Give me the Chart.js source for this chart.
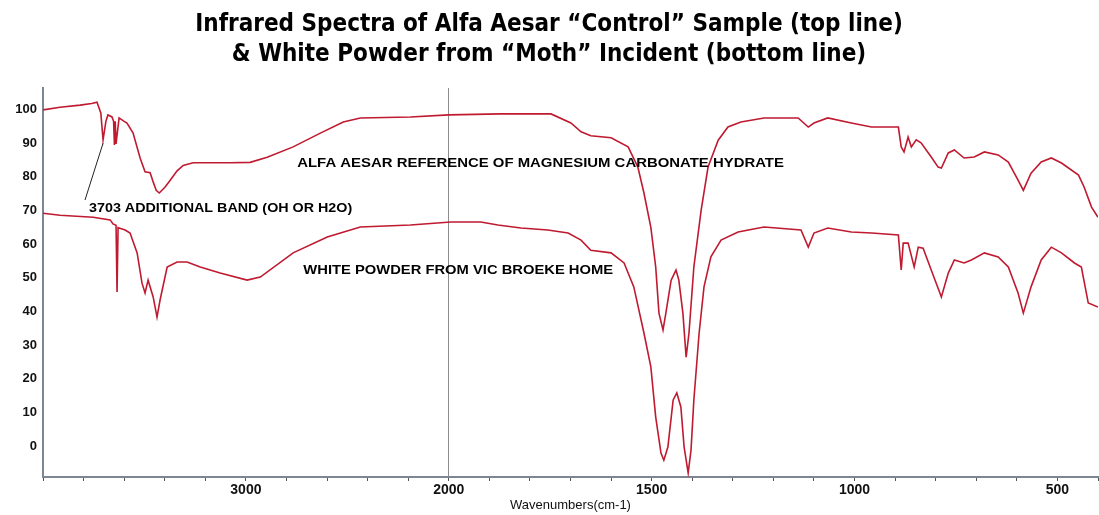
<!DOCTYPE html>
<html><head><meta charset="utf-8">
<script src="https://cdn.jsdelivr.net/npm/chart.js@4.4.0/dist/chart.umd.min.js"></script>
<style>html,body{margin:0;padding:0;background:#fff;overflow:hidden}#wrap{width:1099px;height:515px}</style>
</head><body><div id="wrap"><canvas id="c" width="1099" height="515"></canvas></div>
<script>
// ---- data (wavenumber cm-1, %T) ----
const topWavenumbers = [4000,3916,3817,3760,3734,3715,3704,3690,3680,3660,3652,3648,3644,3640,3625,3600,3586,3556,3521,3497,3472,3457,3442,3427,3398,3373,3339,3309,3260,3176,3077,2979,2895,2767,2633,2520,2436,2189,2000,1872,1748,1699,1674,1650,1600,1558,1534,1519,1502,1490,1482,1472,1465,1452,1440,1433,1423,1415,1408,1396,1378,1361,1336,1312,1280,1223,1139,1114,1100,1066,1008,958,892,885,878,868,860,848,836,811,794,786,769,754,730,705,680,646,621,597,584,565,540,515,490,448,434,416,400];
const topTransmittance = [99.9,100.7,101.3,101.8,102.2,99,91,96.5,98.4,97.8,96.5,89.5,96.5,89.8,97.5,96.5,96,93,85.5,81.5,81.2,78.5,76,75.2,77,79,81.8,83.4,84.2,84.2,84.2,84.3,85.8,88.9,93,96.3,97.5,97.8,98.4,98.7,98.7,96,93.4,92.2,91.6,88.9,82.9,75.2,65,53.2,39.5,34.5,39.5,49.3,52.3,49.3,39.5,26.4,33.6,53.2,70.1,82.9,90.9,94.8,96.3,97.5,97.5,94.8,96,97.5,96,94.8,94.8,88.9,87.4,91.8,88.9,91,90.1,85.9,82.9,82.6,87.1,88,85.6,85.9,87.4,86.5,84.4,79,76,81.1,84.4,85.6,84.1,80.5,76.9,71,68];
const bottomWavenumbers = [4000,3916,3753,3669,3655,3640,3635,3630,3625,3595,3571,3536,3512,3497,3482,3457,3438,3423,3388,3339,3290,3225,3127,2994,2929,2767,2599,2436,2189,1995,1921,1879,1822,1756,1706,1674,1650,1600,1568,1544,1519,1502,1490,1477,1470,1460,1447,1438,1428,1420,1410,1403,1396,1383,1371,1354,1329,1287,1223,1132,1114,1100,1066,1008,958,892,885,880,868,853,843,831,811,786,769,754,730,712,680,646,621,597,584,565,540,515,490,458,441,424,400];
const bottomTransmittance = [69.2,68.6,68,67.2,66,65.6,45.8,64.9,64.8,64.2,63.3,57.4,48.4,45.5,49.3,44.3,38.3,43.4,53.2,54.7,54.7,53.2,51.4,49.3,50.2,57.4,62.1,65.1,65.7,66.6,66.6,65.7,64.8,64.2,63.3,61.2,58.2,57.4,54.4,47.3,33.6,23.5,8.6,-2.1,-4.2,-0.3,13.7,15.8,11.6,-0.3,-8,-1.2,13.7,33.6,47.3,56.2,61.2,63.6,65.1,64.2,59.1,63.3,64.8,63.6,63.3,62.7,52.3,60.3,60.3,53.2,59.1,58.8,52.3,44.3,51.4,55.3,54.4,55.3,57.4,56.2,53.2,45.5,39.5,47.3,55.3,59.1,57.4,54.4,53.2,42.5,41.3];
const xTickValues = [4000,3800,3600,3400,3200,3000,2800,2600,2400,2200,2000,1900,1800,1700,1600,1500,1400,1300,1200,1100,1000,900,800,700,600,500,400];
const xTickLabels = ['3000','2000','1500','1000','500'];
const yTickValues = [0,10,20,30,40,50,60,70,80,90,100];
const titleLines = ['Infrared Spectra of Alfa Aesar \u201cControl\u201d Sample (top line)', '& White Powder from \u201cMoth\u201d Incident (bottom line)'];
const xAxisTitle = 'Wavenumbers(cm-1)';
const labelTop = 'ALFA AESAR REFERENCE OF MAGNESIUM CARBONATE HYDRATE';
const labelBand = '3703 ADDITIONAL BAND (OH OR H2O)';
const labelBottom = 'WHITE POWDER FROM VIC BROEKE HOME';

// ---- IR axis: 2x expansion below the break wavenumber ----
class IRScale extends Chart.LinearScale {
  _u(v){ const b=this.options.breakAt, mx=this.options.max; return v>=b ? (mx-v) : (mx-b)+2*(b-v); }
  _span(){ const b=this.options.breakAt, mx=this.options.max, mn=this.options.min; return (mx-b)+2*(b-mn); }
  getPixelForValue(v){ return this.getPixelForDecimal(this._u(v)/this._span()); }
  getValueForPixel(p){ const u=this.getDecimalForPixel(p)*this._span(); const b=this.options.breakAt, mx=this.options.max; return u<=(mx-b) ? mx-u : b-(u-(mx-b))/2; }
}
IRScale.id = 'irscale';
IRScale.defaults = Chart.LinearScale.defaults;
Chart.register(IRScale);

const irAnnotations = {
  id: 'irAnnotations',
  afterDatasetsDraw(chart, args, opts) {
    const {ctx} = chart; const xs = chart.scales.x, ys = chart.scales.y;
    ctx.save();
    (opts.leaders||[]).forEach(l => {
      ctx.strokeStyle = l.color; ctx.lineWidth = l.width;
      ctx.beginPath();
      ctx.moveTo(xs.getPixelForValue(l.from[0]), ys.getPixelForValue(l.from[1]));
      ctx.lineTo(xs.getPixelForValue(l.to[0]), ys.getPixelForValue(l.to[1]));
      ctx.stroke();
    });
    (opts.labels||[]).forEach(l => {
      const x0 = xs.getPixelForValue(l.from), x1 = xs.getPixelForValue(l.to), yy = ys.getPixelForValue(l.at);
      ctx.font = l.font; ctx.fillStyle = l.color; ctx.textBaseline = 'middle'; ctx.textAlign = 'left';
      const w = ctx.measureText(l.text).width;
      ctx.save(); ctx.translate(x0, yy); ctx.scale((x1-x0)/w, l.scaleY||1); ctx.fillText(l.text, 0, 0); ctx.restore();
    });
    ctx.restore();
  }
};

const lineColor = '#bf1a30';
new Chart(document.getElementById('c'), {
  type: 'line',
  data: {
    datasets: [
      { label: 'Alfa Aesar control', data: topWavenumbers.map((w,i)=>({x:w, y:topTransmittance[i]})), borderColor: lineColor, borderWidth: 1.6, pointRadius: 0, tension: 0, fill: false },
      { label: 'White powder', data: bottomWavenumbers.map((w,i)=>({x:w, y:bottomTransmittance[i]})), borderColor: lineColor, borderWidth: 1.6, pointRadius: 0, tension: 0, fill: false }
    ]
  },
  plugins: [irAnnotations],
  options: {
    responsive: false, animation: false, devicePixelRatio: 1,
    layout: { padding: { left: 0, right: 1, top: 0, bottom: 0 } },
    plugins: {
      legend: { display: false }, tooltip: { enabled: false },
      title: { display: true, text: titleLines, color: '#000', font: { family: 'DejaVu Sans Condensed', weight: 'bold', size: 24, lineHeight: '30px' }, padding: { top: 10, bottom: 18 } },
      irAnnotations: {
        labels: [
          { text: labelTop, from: 2747, to: 1174, at: 84.1, font: 'bold 13px "Liberation Sans"', color: '#000', scaleY: 1.0 },
          { text: labelBand, from: 3773, to: 2476, at: 70.7, font: 'bold 13px "Liberation Sans"', color: '#000', scaleY: 1.0 },
          { text: labelBottom, from: 2717, to: 1595, at: 52.3, font: 'bold 13px "Liberation Sans"', color: '#000', scaleY: 1.0 }
        ],
        leaders: [ { from: [3793, 73.1], to: [3704, 90.0], color: '#222', width: 1 } ]
      }
    },
    scales: {
      x: {
        type: 'irscale', min: 400, max: 4000, breakAt: 2000,
        afterBuildTicks: s => { s.ticks = xTickValues.map(v => ({ value: v })); },
        afterFit: s => { s.height = 38; },
        grid: { display: true, drawOnChartArea: true, color: c => (c.tick && c.tick.value === 2000) ? '#8c8c8c' : 'rgba(0,0,0,0)', tickColor: '#555', tickLength: 4, lineWidth: 1 },
        border: { display: true, color: '#7d8794', width: 2 },
        ticks: { autoSkip: false, maxRotation: 0, minRotation: 0, padding: 1, color: '#111', font: { family: 'Liberation Sans', weight: 'bold', size: 14 }, callback: v => xTickLabels.includes(String(v)) ? String(v) : '' },
        title: { display: true, text: xAxisTitle, color: '#111', font: { family: 'Liberation Sans', size: 13 }, padding: { top: 0, bottom: 2 } }
      },
      y: {
        min: -9.2, max: 106.4,
        afterBuildTicks: s => { s.ticks = yTickValues.map(v => ({ value: v })); },
        afterFit: s => { s.width = 43; },
        grid: { display: false, drawTicks: false },
        border: { display: true, color: '#7d8794', width: 2 },
        ticks: { padding: 6, color: '#111', font: { family: 'Liberation Sans', weight: 'bold', size: 13 } }
      }
    }
  }
});
</script></body></html>
